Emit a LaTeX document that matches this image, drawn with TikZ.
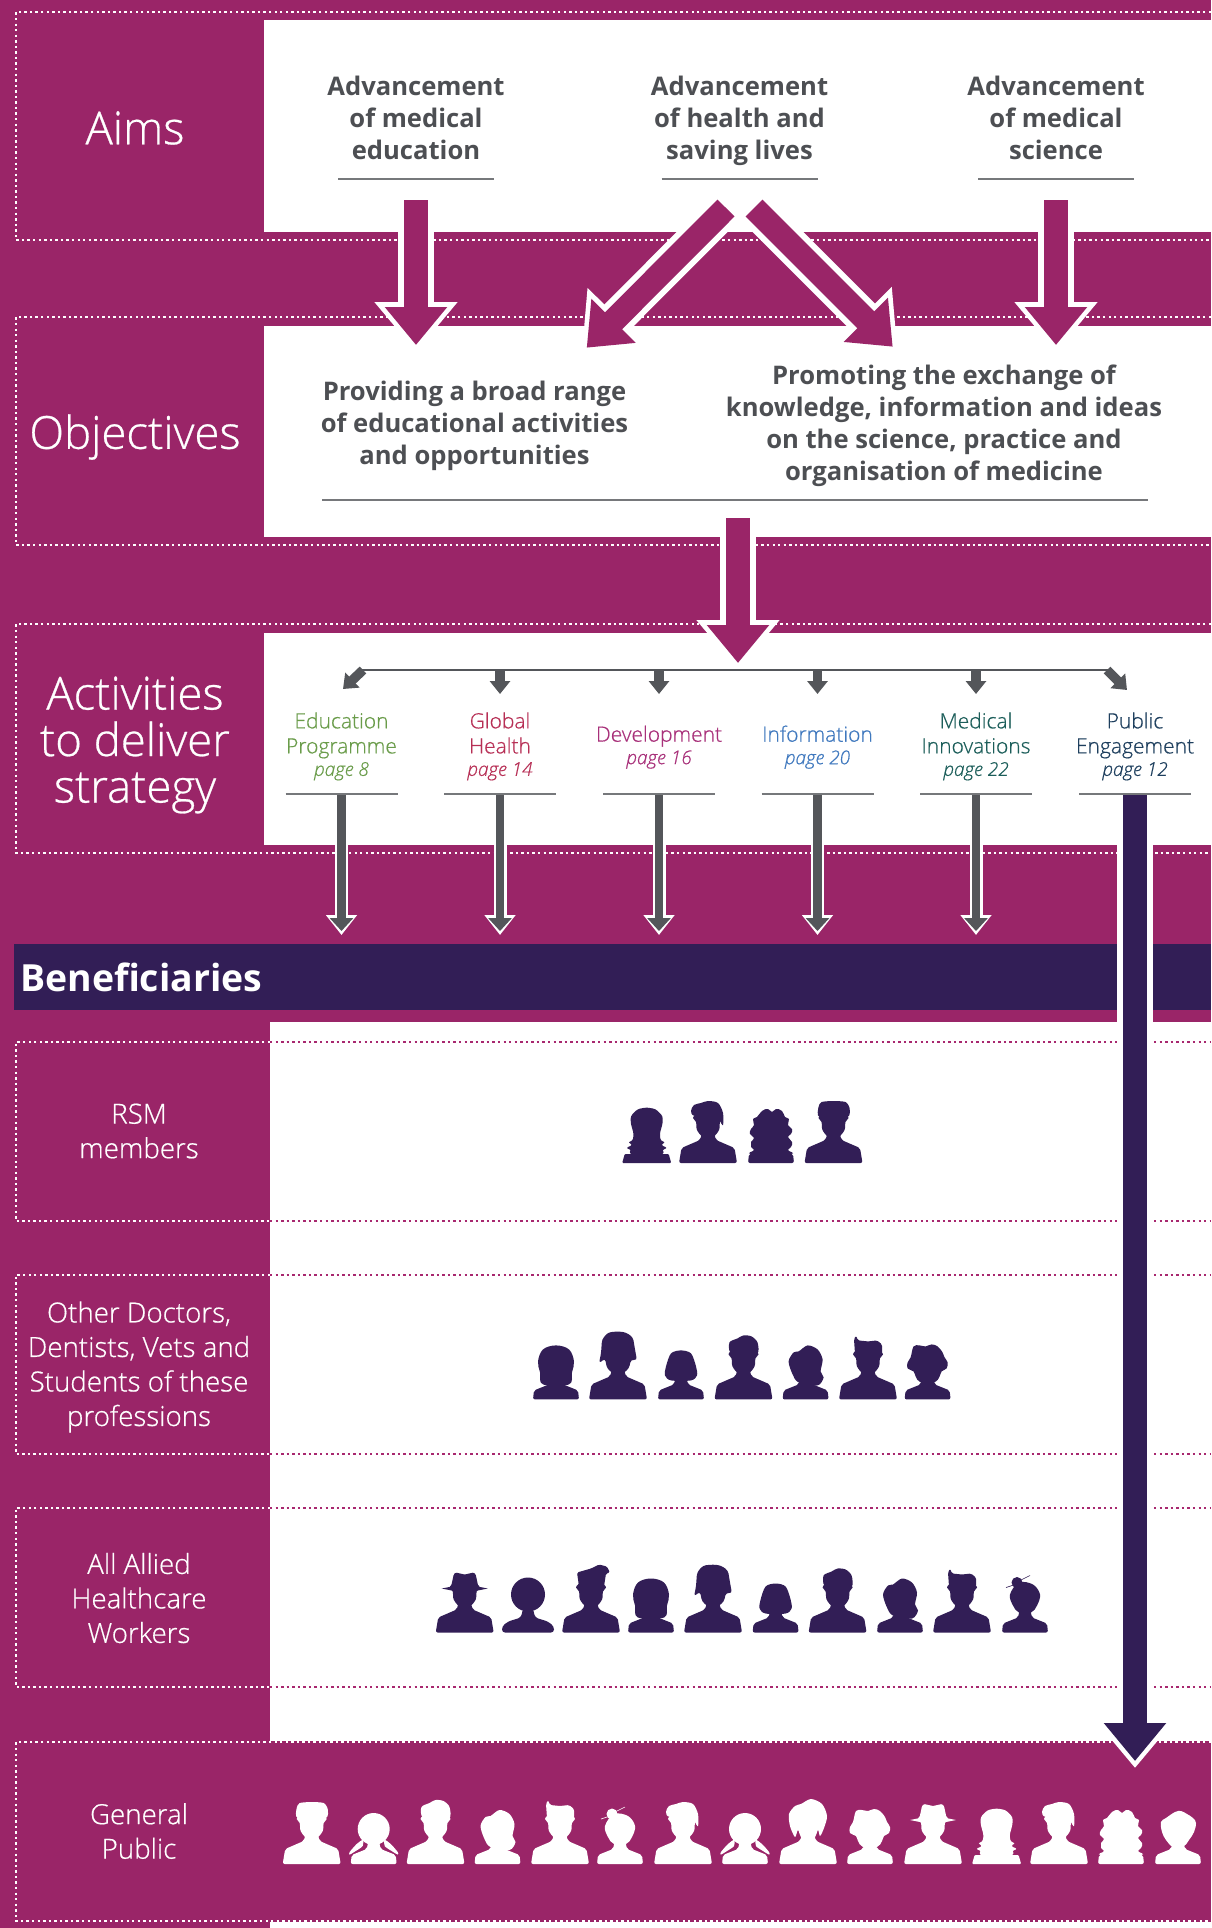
\documentclass[tikz,border=0pt]{standalone}
\usepackage{fontspec}
\setmainfont{Open Sans}
\newfontfamily\lightfont{Open Sans Light}[ItalicFont={Open Sans Light Italic}, RawFeature={embolden=0.6}]
\usetikzlibrary{arrows.meta}

\definecolor{rsmPurple}{HTML}{9A2568}
\definecolor{rsmNavy}{HTML}{321E56}
\definecolor{rsmGrey}{HTML}{54565A}
\definecolor{rsmText}{HTML}{4D4F53}
\definecolor{rsmDots}{HTML}{A8286F}
\definecolor{actEdu}{HTML}{6A9C4A}
\definecolor{actGlobal}{HTML}{B72F55}
\definecolor{actDev}{HTML}{A8307A}
\definecolor{actInfo}{HTML}{3F78BE}
\definecolor{actMed}{HTML}{1C5E5A}
\definecolor{actPublic}{HTML}{1E3F5E}

\newcommand{\manbody}{\fill[rounded corners=2pt] (-29,0) -- (-26.5,-15) -- (-8,-23) -- (-6,-30) -- (6,-30) -- (8,-23) -- (26.5,-15) -- (29,0) -- cycle;}
\newcommand{\girlbody}{\fill[rounded corners=2pt] (-23,0) -- (-22,-9) -- (-7,-15) -- (-5,-24) -- (5,-24) -- (7,-15) -- (22,-9) -- (23,0) -- cycle;}
\newcommand{\manface}{\fill plot[smooth cycle, tension=0.5] coordinates {(-13,-48) (-15,-45) (-12,-41) (-11,-33) (-5,-26) (5,-26) (11,-33) (12,-41) (15,-45) (13,-48) (8,-52) (-8,-52)};}
\newcommand{\crowd}[3]{\foreach \kind/\xpos in {#3} {\edef\placeit{\noexpand\pic[color=#1] at (\xpos,#2) {\kind};}\placeit}}
\newcommand{\pagetag}{\itshape\fontsize{19}{25}\selectfont}

\tikzset{
    backdrop/.style={fill=rsmPurple},
    whitepanel/.style={fill=white},
    dotwhite/.style={draw=white, line width=2.7pt, dash pattern=on 2.4pt off 3.16pt},
    dotpink/.style={draw=rsmDots, line width=2.7pt, dash pattern=on 2.4pt off 3.16pt},
    heading/.style={text=white, align=center, font=\lightfont\fontsize{45.5}{46.5}\selectfont},
    aimtext/.style={text=rsmText, align=center, font=\bfseries\fontsize{25.6}{32}\selectfont},
    groupname/.style={text=white, align=center, font=\lightfont\fontsize{27.7}{34.5}\selectfont},
    activity/.style={align=center, font=\lightfont\fontsize{21}{25}\selectfont},
    ruleline/.style={draw=rsmGrey!80, line width=1.5pt},
    bigshell/.style={draw=white, line width=36pt, shorten >=-7pt, -{Triangle[length=50pt, width=80pt]}},
    bigcore/.style={draw=#1, line width=24pt, -{Triangle[length=38pt, width=60pt]}},
    midshell/.style={draw=white, line width=13pt, shorten >=-4pt, -{Triangle[length=20pt, width=30pt]}},
    midcore/.style={draw=rsmGrey, line width=8.7pt, -{Triangle[length=13pt, width=23pt]}},
    smallcore/.style={draw=rsmGrey, line width=9.5pt, -{Triangle[length=13pt, width=20pt]}},
    pics/shortman/.style={code={\manbody\manface
        \fill plot[smooth cycle, tension=0.5] coordinates {(-13,-47) (-14,-57) (-6,-61) (0,-64) (8,-63) (14,-57) (14,-46) (0,-50)};}},
    pics/quiffman/.style={code={\manbody\manface
        \fill[rounded corners=1.5pt] (-13,-46) -- (-14,-60) -- (-12,-64) -- (-10,-59) -- (0,-58) -- (9,-59) -- (14,-55) -- (14,-46) -- cycle;}},
    pics/pompman/.style={code={\manbody\manface
        \fill[rounded corners=1.5pt] (-12,-46) -- (-14,-60) -- (0,-64) -- (8,-68) -- (16,-66) -- (19,-60) -- (15,-59) -- (13,-46) -- cycle;}},
    pics/hatman/.style={code={\manbody\manface
        \fill[rounded corners=1pt] (-14,-44) -- (-11,-58) -- (-9,-60) -- (0,-58) -- (9,-60) -- (11,-58) -- (14,-44) -- cycle;
        \fill (-23,-44) -- (-13,-46) -- (13,-46) -- (23,-44) -- (13,-42) -- (-13,-42) -- cycle;}},
    pics/tuftman/.style={code={\manbody\manface
        \fill plot[smooth cycle, tension=0.4] coordinates {(-14,-46) (-15,-56) (-12,-61) (0,-62) (12,-61) (16,-55) (14,-46)};}},
    pics/partman/.style={code={\manbody\manface
        \fill plot[smooth cycle, tension=0.5] coordinates {(-13,-47) (-17,-52) (-14,-58) (-7,-60) (0,-62) (10,-60) (15,-50) (15,-38) (12,-42) (11,-47)};}},
    pics/fringe/.style={code={\manbody
        \fill[rounded corners=3pt] (0,-68) -- (-10,-67) -- (-16,-60) -- (-17,-46) -- (-19,-36) -- (-13,-41) -- (-11,-31) -- (-5,-26) -- (5,-26) -- (11,-31) -- (13,-40) -- (19,-39) -- (17,-50) -- (15,-62) -- (8,-67) -- cycle;}},
    pics/sweephair/.style={code={\manbody
        \fill plot[smooth cycle, tension=0.5] coordinates {(3,-65) (14,-60) (19,-48) (16,-36) (12,-28) (10,-34) (6,-26) (-6,-26) (-10,-34) (-13,-27) (-18,-38) (-19,-50) (-13,-58) (-7,-60)};}},
    pics/longhair/.style={code={\girlbody
        \fill plot[smooth cycle, tension=0.6] coordinates {(0,-54) (13,-50) (18,-38) (16,-27) (13,-15) (-13,-15) (-16,-27) (-18,-38) (-13,-50)};}},
    pics/layerhair/.style={code={\fill[rounded corners=1pt] (-24.5,0) -- (-22,-9) -- (22,-9) -- (24.5,0) -- cycle;
        \fill[rounded corners=2.5pt] (0,-55.6) -- (9,-54) -- (16,-47) -- (16,-40) -- (13,-29) -- (14,-22) -- (19,-21) -- (14,-18) -- (21,-15) -- (15,-13) -- (18,-10) -- (13,-8) -- (-13,-8) -- (-18,-10) -- (-15,-13) -- (-21,-15) -- (-14,-18) -- (-19,-21) -- (-14,-22) -- (-13,-29) -- (-16,-40) -- (-16,-47) -- (-9,-54) -- cycle;}},
    pics/ovalhair/.style={code={\fill[rounded corners=3pt] (-26,0) -- (-26,-6) -- (-20,-11) -- (-7,-15) -- (-5,-24) -- (5,-24) -- (7,-15) -- (20,-11) -- (26,-6) -- (26,0) -- cycle;
        \fill (0,-38) ellipse [x radius=17pt, y radius=17pt];}},
    pics/bobcut/.style={code={\girlbody
        \fill plot[smooth cycle, tension=0.5] coordinates {(0,-49) (-10,-46) (-15,-33) (-16,-24) (-10,-19) (10,-19) (16,-24) (15,-33) (10,-46)};}},
    pics/ponytail/.style={code={\girlbody
        \fill plot[smooth cycle, tension=0.5] coordinates {(2,-54) (12,-50) (17,-40) (15,-28) (18,-22) (12,-14) (-7,-17) (-13,-25) (-17,-38) (-12,-47) (-7,-48)};}},
    pics/curlyhead/.style={code={\girlbody
        \fill plot[smooth cycle, tension=0.6] coordinates {(-14,-53) (-8,-54) (-2,-53) (4,-55) (10,-53) (15,-47) (17,-42) (20,-37) (19,-31) (14,-28) (12,-23) (7,-17) (-7,-17) (-12,-23) (-14,-28) (-20,-31) (-20,-37) (-17,-42)};}},
    pics/waveshort/.style={code={\girlbody
        \fill plot[smooth cycle, tension=0.6] coordinates {(-12,-46) (-3,-52) (3,-53) (9,-50) (15,-46) (18,-41) (16,-32) (11,-24) (5,-17) (-5,-17) (-12,-24) (-16,-32) (-17,-42)};}},
    pics/curlylong/.style={code={\girlbody
        \fill plot[smooth cycle, tension=0.8] coordinates {(-9,-52) (-3,-54) (1,-51) (5,-54) (11,-52) (14,-46) (18,-44) (17,-38) (21,-34) (20,-29) (17,-26) (21,-21) (20,-16) (17,-13) (19,-9) (-19,-9) (-17,-13) (-20,-16) (-20,-21) (-17,-25) (-21,-29) (-20,-34) (-17,-38) (-18,-44) (-14,-46)};}},
    pics/bunhair/.style={code={\girlbody
        \fill plot[smooth cycle, tension=0.6] coordinates {(-6,-50) (8,-48) (15,-38) (12,-27) (6,-20) (-6,-20) (-12,-27) (-15,-38)};
        \fill (-8,-50) circle [radius=5.5pt];
        \draw[line width=0.6pt] (-5,-52) -- (5,-57) (-19,-45) -- (-10,-48);}},
    pics/pigtails/.style={code={\girlbody
        \fill (0,-35) circle [radius=16pt];
        \fill plot[smooth cycle, tension=0.5] coordinates {(-11,-24) (-17,-20) (-24,-12) (-24,-9.5) (-18,-13) (-11,-18)};
        \fill plot[smooth cycle, tension=0.5] coordinates {(11,-24) (17,-20) (24,-12) (24,-9.5) (18,-13) (11,-18)};}},
}

\begin{document}
\begin{tikzpicture}[x=1pt, y=-1pt]
    \useasboundingbox (0,0) rectangle (1211,1928);

    % coloured ground
    \fill[backdrop] (0,0) rectangle (1211,1928);
    \foreach \ytop/\ybot in {20/232, 326/537, 633/845}
        \fill[whitepanel] (264,\ytop) rectangle (1211,\ybot);
    \fill[whitepanel] (270,1022) rectangle (1211,1741);
    \fill[whitepanel] (270,1922) rectangle (1211,1928);
    \fill[rsmNavy] (14,944) rectangle (1211,1010);

    % dotted frames
    \foreach \ytop/\ybot in {12/240, 317/545, 624/853, 1742/1921}
        \draw[dotwhite] (1211,\ytop) -- (16,\ytop) -- (16,\ybot) -- (1211,\ybot);
    \foreach \ytop/\ybot in {1042/1221, 1275/1454, 1508/1687} {
        \draw[dotwhite] (270,\ytop) -- (16,\ytop) -- (16,\ybot) -- (270,\ybot);
        \draw[dotpink] (270,\ytop) -- (1211,\ytop) (270,\ybot) -- (1211,\ybot);
    }

    % left hand titles
    \node[heading] (aims) at (135,128) {Aims};
    \node[heading] (objectives) at (135,437) {Objectives};
    \node[heading] (activities) at (135,745) {Activities\\to deliver\\strategy};
    \node[text=white, font=\bfseries\fontsize{37.4}{40}\selectfont, anchor=west, inner sep=0pt] (benefit) at (20,977) {Beneficiaries};
    \node[groupname] (members) at (139,1131) {RSM\\members};
    \node[groupname] (doctors) at (139,1367) {Other Doctors,\\Dentists, Vets and\\Students of these\\professions};
    \node[groupname] (allied) at (139,1598) {All Allied\\Healthcare\\Workers};
    \node[groupname] (public) at (139,1831) {General\\Public};

    % aims and objectives
    \node[aimtext] (aimEdu) at (416,118) {Advancement\\of medical\\education};
    \node[aimtext] (aimHealth) at (739.5,121) {Advancement\\of health and\\saving lives};
    \node[aimtext] (aimSci) at (1056,118) {Advancement\\of medical\\science};
    \foreach \xpos in {416, 739.5, 1056}
        \draw[ruleline] (\xpos-78,179) -- (\xpos+78,179);
    \node[aimtext] (objBroad) at (474.5,426) {Providing a broad range\\of educational activities\\and opportunities};
    \node[aimtext] (objSwap) at (944,426) {Promoting the exchange of\\knowledge, information and ideas\\on the science, practice and\\organisation of medicine};
    \draw[ruleline] (322,500) -- (1148,500);

    % activities
    \node[activity, text=actEdu] (actEdu) at (341.5,746.4) {Education\\Programme\\[-2.5pt]{\pagetag page 8}};
    \node[activity, text=actGlobal] (actGlobal) at (500,746.4) {Global\\Health\\[-2.5pt]{\pagetag page 14}};
    \node[activity, text=actDev] (actDev) at (659,747.2) {Development\\[-2.5pt]{\pagetag page 16}};
    \node[activity, text=actInfo] (actInfo) at (817.5,747.2) {Information\\[-2.5pt]{\pagetag page 20}};
    \node[activity, text=actMed] (actMed) at (976,746.4) {Medical\\Innovations\\[-2.5pt]{\pagetag page 22}};
    \node[activity, text=actPublic] (actPublic) at (1135,746.4) {Public\\Engagement\\[-2.5pt]{\pagetag page 12}};
    \foreach \xpos in {341.5, 500, 659, 817.5, 976, 1135}
        \draw[ruleline] (\xpos-56,794) -- (\xpos+56,794);

    % end points of the arrows
    \coordinate (eduTop) at (416,200);    \coordinate (eduTip) at (416,345);
    \coordinate (sciTop) at (1056,200);   \coordinate (sciTip) at (1056,345);
    \coordinate (leftTop) at (726,208);   \coordinate (leftTip) at (586.7,347.7);
    \coordinate (rightTop) at (754,208);  \coordinate (rightTip) at (892.7,346.7);
    \coordinate (midTop) at (738,518);    \coordinate (midTip) at (738,663);
    \coordinate (pubTop) at (1135,795);   \coordinate (pubTip) at (1135,1761);
    \coordinate (railL) at (358,670);     \coordinate (railR) at (1112,670);

    % big purple arrows
    \foreach \a/\b in {eduTop/eduTip, sciTop/sciTip, leftTop/leftTip, rightTop/rightTip, midTop/midTip} {
        \draw[bigshell] (\a) -- (\b);
        \draw[bigcore=rsmPurple] (\a) -- (\b);
    }

    % grey rail with its small arrows
    \draw[draw=rsmGrey, line width=1.5pt] (railL) -- (railR);
    \foreach \nam/\xpos in {B/500, C/659, D/817.5, E/976} {
        \coordinate (rail\nam) at (\xpos,670);
        \coordinate (railtip\nam) at (\xpos,694);
        \draw[smallcore] (rail\nam) -- (railtip\nam);
    }
    \coordinate (railtipA) at (343,689);
    \coordinate (railtipF) at (1127,690);
    \coordinate (railA) at (363,670);
    \coordinate (railF) at (1107,670);
    \draw[smallcore] (railA) -- (railtipA);
    \draw[smallcore] (railF) -- (railtipF);

    % grey arrows down to the band
    \foreach \nam/\xpos in {A/341.5, B/500, C/659, D/817.5, E/976} {
        \coordinate (down\nam) at (\xpos,795);
        \coordinate (downtip\nam) at (\xpos,931);
        \draw[midshell] (down\nam) -- (downtip\nam);
        \draw[midcore] (down\nam) -- (downtip\nam);
    }

    % people
    \crowd{rsmNavy}{1163}{layerhair/646.7, partman/708, curlylong/771, tuftman/833.5}
    \crowd{rsmNavy}{1399.4}{longhair/556, fringe/618, bobcut/681, shortman/743.5, ponytail/805.6, quiffman/868, curlyhead/927.6}
    \crowd{rsmNavy}{1632.5}{hatman/464.7, ovalhair/528, pompman/591, longhair/651, fringe/713, bobcut/775.6, shortman/837.6, ponytail/900, quiffman/962, bunhair/1025}
    \crowd{white}{1864}{tuftman/311.7, pigtails/373.7, shortman/435.5, ponytail/497.5, quiffman/560, bunhair/620, partman/683, pigtails/745, sweephair/808, curlyhead/870, hatman/933, layerhair/996.6, partman/1059, curlylong/1121, waveshort/1178}

    % long arrow to the general public
    \draw[bigshell] (pubTop) -- (pubTip);
    \draw[bigcore=rsmNavy] (pubTop) -- (pubTip);
\end{tikzpicture}
\end{document}
